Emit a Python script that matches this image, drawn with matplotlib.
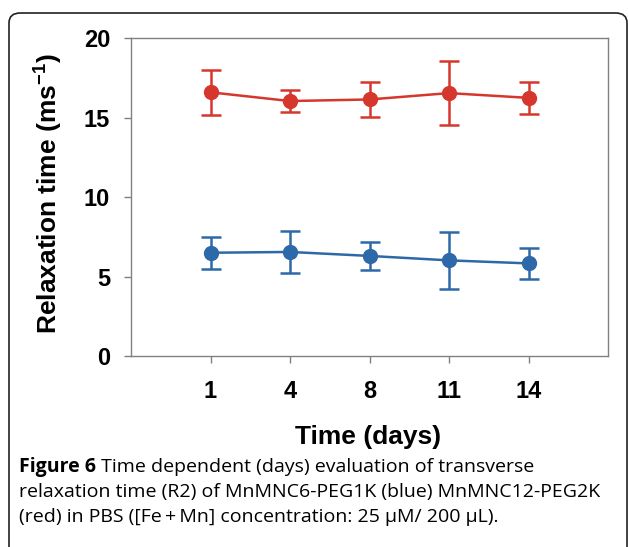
import numpy as np
import matplotlib
matplotlib.use('Agg')
import matplotlib.pyplot as plt
from matplotlib.patches import FancyBboxPatch

# valori
days = ['1', '4', '8', '11', '14']
r2_red = [16.6, 16.05, 16.15, 16.55, 16.25]
err_red = [1.4, 0.72, 1.1, 2.0, 1.0]
r2_blue = [6.5, 6.55, 6.3, 6.02, 5.83]
err_blue = [1.0, 1.3, 0.9, 1.8, 1.0]
y_ticks = [0, 5, 10, 15, 20]

plt.rcParams['font.family'] = ['Liberation Sans', 'DejaVu Sans']
plt.rcParams['mathtext.fontset'] = 'custom'
plt.rcParams['mathtext.rm'] = 'Liberation Sans:bold'
plt.rcParams['mathtext.bf'] = 'Liberation Sans:bold'
plt.rcParams['mathtext.default'] = 'bf'

W, H = 629, 547
fig = plt.figure(figsize=(W / 100, H / 100), dpi=100)

# chenarul rotunjit al figurii
box = FancyBboxPatch((9 / W, 1 - 560 / H), (627 - 9) / W, (560 - 13) / H,
                     boxstyle='round,pad=0,rounding_size=0.018',
                     transform=fig.transFigure, fill=False,
                     edgecolor='#222222', linewidth=1.2, clip_on=False)
fig.patches.append(box)

ax = fig.add_axes([131 / W, 1 - 356 / H, (608 - 131) / W, (356 - 38.3) / H])
x = np.arange(1, len(days) + 1)

ax.errorbar(x, r2_red, yerr=err_red, color='#D6372D', marker='o', markersize=10,
            linewidth=1.8, elinewidth=1.8, capsize=7.5, capthick=1.8)
ax.errorbar(x, r2_blue, yerr=err_blue, color='#2D69A8', marker='o', markersize=10,
            linewidth=1.8, elinewidth=1.8, capsize=7.5, capthick=1.8)

ax.set_xlim(0, len(days) + 1)
ax.set_ylim(0, 20)
ax.set_xticks(x)
ax.set_xticklabels(days)
ax.set_yticks(y_ticks)
for s in ax.spines.values():
    s.set_color('#808080')
    s.set_linewidth(1.0)
ax.tick_params(axis='both', colors='#808080', length=5, width=1.0,
               labelcolor='black', labelsize=17)
ax.tick_params(axis='x', pad=12)
ax.tick_params(axis='y', pad=10)
for lbl in ax.get_xticklabels() + ax.get_yticklabels():
    lbl.set_fontweight('bold')

fig.text(368.5 / W, 1 - 437 / H, 'Time (days)', ha='center', va='center',
         fontsize=19, fontweight='bold')
fig.text(49 / W, 1 - 194 / H, r'Relaxation time (ms$^{-1}$)', ha='center',
         va='center', rotation=90, fontsize=19, fontweight='bold')

# legenda figurii
cap_lines = [
    ('Figure 6', ' Time dependent (days) evaluation of transverse'),
    ('', 'relaxation time (R2) of MnMNC6-PEG1K (blue) MnMNC12-PEG2K'),
    ('', '(red) in PBS ([Fe\u2009+\u2009Mn] concentration: 25 \u03bcM/ 200 \u03bcL).'),
]
cap_y = [467, 492, 517]
cap_font = ['Open Sans', 'DejaVu Sans']
fig.canvas.draw()
renderer = fig.canvas.get_renderer()
for (bold, rest), yy in zip(cap_lines, cap_y):
    x0 = 19
    if bold:
        t = fig.text(x0 / W, 1 - yy / H, bold, ha='left', va='center',
                     fontsize=14, fontweight='bold', family=cap_font)
        x0 = t.get_window_extent(renderer).x1
    fig.text(x0 / W, 1 - yy / H, rest, ha='left', va='center', fontsize=14,
             family=cap_font)

fig.savefig('out.png', dpi=100)
